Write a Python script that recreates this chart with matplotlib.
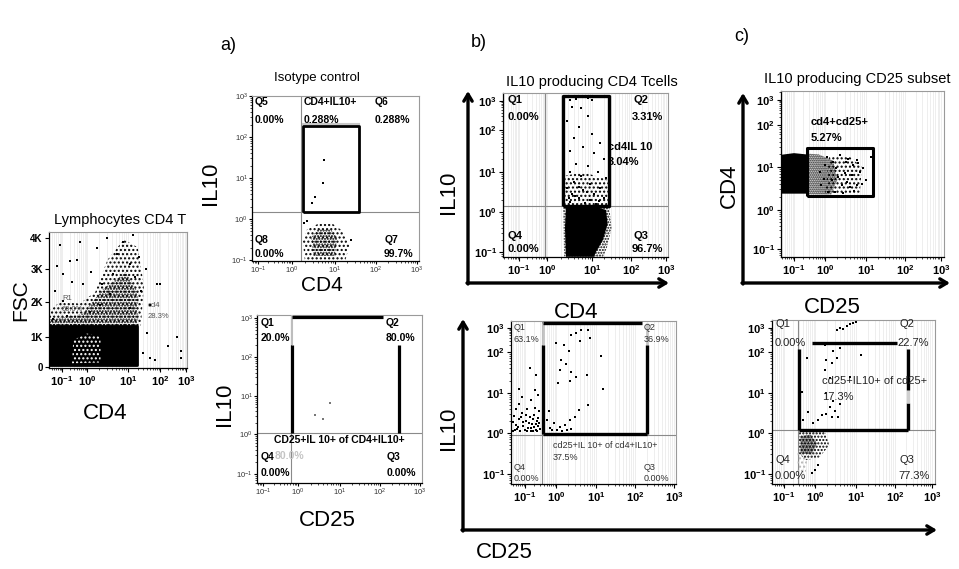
import numpy as np
import matplotlib.pyplot as plt
from matplotlib.patches import Polygon

plt.rcParams['font.family'] = ['Liberation Sans', 'DejaVu Sans']
plt.rcParams['mathtext.fontset'] = 'custom'
plt.rcParams['mathtext.rm'] = 'Liberation Sans'
plt.rcParams['mathtext.it'] = 'Liberation Sans:italic'
plt.rcParams['mathtext.bf'] = 'Liberation Sans:bold'
plt.rcParams['hatch.linewidth'] = 1.0

# ---- data (decades of fluorescence, FSC in channel units) ----
decades = [-1, 0, 1, 2, 3]
fsc_ticks = [0, 1000, 2000, 3000, 4000]
fsc_labels = ['0', '1K', '2K', '3K', '4K']

# Lymphocytes CD4 T (FSC vs CD4)
lym_gate_x = [-1.52, 1.28]
lym_gate_y = [60, 1300]
lym_split = 0.37
lym_core = [(-1.52, 60), (-1.52, 1280), (1.28, 1280), (1.28, 60)]
lym_hole = [(-0.6, 120), (-0.55, 900), (0.0, 1100), (0.33, 1000), (0.33, 150)]
lym_cloud = [(-1.52, 1280), (-1.52, 1750), (-1.0, 2050), (-0.3, 1950), (0.2, 2300), (0.5, 3300),
             (0.9, 3950), (1.3, 3700), (1.5, 2500), (1.4, 1280)]
lym_dense = [(-1.52, 1280), (-1.52, 1500), (-0.2, 1650), (0.4, 2400), (0.95, 2900), (1.3, 2300), (1.3, 1280)]
lym_x = [-1.08, -0.68, -0.28, -0.16, -0.96, -1.28, -0.96, 0.24, 0.49, 0.73, 0.88, 1.05, 1.22, 1.41, 0.63,
         0.37, 0.56, 0.32, 1.05, 0.07, -0.8, -1.36, 1.34, 1.16, 1.69, 1.91, 1.47, 1.69, 1.84, 2.81, 2.81,
         2.0, 2.65, -1.2, -0.4, 0.1, -0.6, 1.55, 2.3, 1.6]
lym_y = [3780, 3260, 3880, 2540, 2850, 2330, 2020, 3690, 4000, 3470, 3880, 3160, 2760, 2330, 2850,
         2540, 2230, 1920, 1830, 1700, 1610, 1520, 3380, 4100, 1920, 2540, 465, 310, 217, 527, 310,
         2540, 990, 3100, 3300, 2900, 2600, 3000, 700, 1100]

# a) isotype control, IL10 vs CD4
iso_quad = (0.21, 0.17)
iso_gate_x = [0.26, 1.59]
iso_gate_y = [0.17, 2.27]
iso_cloud = [(0.3, -1.02), (0.25, -0.55), (0.35, -0.25), (0.6, -0.12), (0.95, -0.12), (1.2, -0.3),
             (1.35, -0.65), (1.25, -1.02)]
iso_core = [(0.5, -0.9), (0.45, -0.45), (0.6, -0.25), (0.9, -0.25), (1.05, -0.45), (1.0, -0.9)]
iso_x = [0.74, 0.72, 0.53, 0.47, 0.28, 1.38, 0.36]
iso_y = [1.44, 0.88, 0.54, 0.39, -0.1, -0.5, -0.05]

# a) isotype control, IL10 vs CD25
isob_quad = (-0.2, 0.03)
isob_left, isob_right = -0.17, 2.48
isob_top_end, isob_top_y = 2.08, 3.03
isob_black_y = [0.03, 2.31]
isob_x = [0.40, 0.60, 0.76]
isob_y = [0.50, 0.39, 0.82]

# b) IL10 vs CD4
cd4_quad = (-0.07, 0.15)
cd4_gate_x = [0.36, 1.44]
cd4_gate_y = [0.15, 3.17]
cd4_core = [(0.42, -1.12), (0.4, -0.4), (0.42, 0.1), (0.7, 0.14), (1.1, 0.13), (1.36, 0.05), (1.4, -0.3),
            (1.28, -0.7), (1.1, -1.0), (1.05, -1.12)]
cd4_halo = [(0.38, -1.12), (0.36, 0.16), (1.44, 0.16), (1.5, -0.4), (1.38, -0.9), (1.28, -1.12)]
cd4_low = [(0.38, 0.16), (0.38, 0.9), (0.8, 1.0), (1.42, 0.8), (1.42, 0.16)]
cd4_x = [0.5, 0.65, 0.9, 1.0, 0.55, 0.75, 0.9, 0.45, 0.7, 0.6, 1.0, 1.2, 0.8, 0.5, 1.05, 1.3, 0.65, 0.9,
         0.5, 1.15, 0.75, 1.35, 0.6, 0.95, 0.45, 1.2, 0.8, 0.55, 1.05, 0.7, 0.95, 1.3, 0.5, 0.85, 1.1,
         0.62, 0.88, 1.18, 0.48, 0.72]
cd4_y = [3.05, 3.08, 3.1, 3.05, 2.8, 2.75, 2.5, 2.3, 2.1, 1.8, 1.9, 1.7, 1.6, 1.5, 1.45, 1.3, 1.2, 1.15,
         1.0, 1.0, 0.9, 0.85, 0.75, 0.7, 0.6, 0.6, 0.55, 0.45, 0.45, 0.35, 0.3, 0.35, 0.25, 0.22, 0.2,
         0.4, 0.5, 0.28, 0.35, 0.62]

# b) IL10 vs CD25 of CD4+IL10+
sub_quad = (-0.45, -0.05)
sub_left, sub_right = -0.42, 2.31
sub_bottom, sub_black_top, sub_top_y = -0.02, 2.29, 3.2
sub_top_end = 2.18
sub_x = [-1.38, -1.3, -1.25, -1.2, -1.15, -1.1, -1.05, -1.0, -0.98, -0.92, -0.9, -0.85, -0.8, -0.78,
         -0.72, -0.7, -0.65, -0.62, -0.58, -0.55, -0.52, -1.35, -1.28, -1.18, -1.08, -0.95, -0.88, -0.75,
         -0.68, -0.6, -1.4, -1.22, -1.12, -0.82, -0.66, -0.57, -1.32, -0.96, -0.74, -0.54,
         -0.68, -0.84, -1.2, -0.63, -0.8, -1.1, -0.58,
         0.0, 0.2, 0.38, 0.5, 0.63, 0.8, 0.85, 0.6, 0.33, 0.12, 0.25, 0.1, 0.38, 0.77, 0.5, 0.06, 0.35,
         1.14, 1.17, 0.8, 0.58, 0.47, 0.35, 0.22, 0.1, -0.07, -0.2, -0.28, 0.02, 0.27, 0.38, -0.12,
         -0.23, 0.14]
sub_y = [0.05, 0.2, 0.1, 0.35, 0.05, 0.5, 0.18, 0.08, 0.3, 0.6, 0.12, 0.4, 0.05, 0.22, 0.15, 0.45, 0.08,
         0.3, 0.18, 0.55, 0.1, 0.42, 0.6, 0.72, 0.28, 0.05, 0.25, 0.35, 0.62, 0.04, 0.28, 0.15, 0.4, 0.12,
         0.22, 0.38, 0.08, 0.45, 0.05, 0.25,
         1.07, 1.6, 1.1, 1.43, 0.82, 0.9, 0.95,
         2.37, 2.29, 2.7, 2.8, 2.9, 2.9, 2.6, 2.45, 2.05, 1.8, 1.7, 1.55, 1.5, 1.45, 1.4, 1.25, 1.3,
         1.9, 1.1, 0.7, 0.58, 0.4, 0.33, 0.2, 0.15, 0.24, 0.12, 0.32, 0.07, 0.07, 0.1, 0.07,
         0.54, 0.04]

# c) CD4 vs CD25
cd25_gate_x = [-0.58, 1.18]
cd25_gate_y = [0.33, 1.45]
cd25_core = [(-1.42, 0.38), (-1.42, 1.29), (-1.0, 1.33), (-0.6, 1.3), (-0.56, 0.38)]
cd25_halo = [(-0.6, 0.36), (-0.6, 1.32), (-0.2, 1.3), (0.2, 1.15), (0.3, 0.7), (0.15, 0.36)]
cd25_thin = [(0.0, 0.36), (0.1, 1.25), (0.6, 1.25), (0.9, 1.0), (0.85, 0.4)]
cd25_x = [0.04, 0.36, 0.52, 0.68, 0.8, 0.85, 0.65, 0.49, 0.28, 0.16, 0.41, 0.61, 0.77, 0.24, 0.45, 0.08,
          1.12, 0.93, 0.77, 0.2, 0.0, 0.32, 0.53, -0.12, -0.16, -0.04, 1.0, 0.7, 0.55, 0.9]
cd25_y = [1.25, 1.29, 1.13, 1.05, 1.09, 0.89, 0.81, 0.85, 0.97, 0.7, 0.58, 0.54, 0.58, 0.43, 0.39, 0.43,
          1.25, 0.97, 1.17, 1.13, 1.05, 0.77, 0.66, 0.58, 0.89, 0.73, 0.7, 0.45, 1.2, 0.6]

# c) IL10 vs CD25 of CD25+
c25_quad = (-0.55, 0.08)
c25_left, c25_right = -0.52, 2.35
c25_bottom, c25_vtop = 0.08, 2.13
c25_gap = (0.75, 1.07)
c25_top_x, c25_top_y = (-0.1, 2.05), 2.38
c25_cloud = [(-0.52, -0.05), (-0.5, 0.06), (-0.1, 0.12), (0.25, 0.03), (0.35, -0.3), (0.1, -0.6),
             (-0.3, -0.66), (-0.52, -0.5)]
c25_core = [(-0.47, -0.5), (-0.47, -0.08), (-0.15, -0.04), (0.05, -0.25), (-0.1, -0.52)]
c25_tail = [(-0.56, -0.45), (-0.56, -1.0), (-0.3, -1.0), (-0.25, -0.6)]
c25_x = [-0.38, -0.22, -0.05, 0.08, 0.16, 0.28, 0.41, 0.37, 0.49, 0.57, 0.45, 0.61, 0.28, 0.37, 0.24,
         0.28, 0.41, 0.53, 0.45, 0.61, 0.24, 0.53, 0.69, 0.77, 0.85, 0.93, 1.0, 0.61, 1.14, 0.85, -0.27,
         -0.43, 0.0, -0.1, 0.08]
c25_y = [0.32, 0.52, 0.24, 0.32, 0.44, 0.48, 0.4, 0.64, 0.56, 0.4, 0.8, 0.72, 1.0, 1.36, 1.55, 1.8, 1.72,
         1.85, 2.05, 2.17, 2.3, 2.9, 2.95, 3.1, 3.15, 3.2, 3.25, 3.0, 1.93, 1.4, 1.85, 1.03, -0.9, -0.98,
         -0.78]

# ---- layout helpers ----
W, H = 959, 569
fig = plt.figure(figsize=(W / 100, H / 100), dpi=100)


def extend(t, p, lo, hi):
    t = np.asarray(t, float)
    p = np.asarray(p, float)
    a = t[0] + (lo - p[0]) * (t[1] - t[0]) / (p[1] - p[0])
    b = t[-1] + (hi - p[-1]) * (t[-1] - t[-2]) / (p[-1] - p[-2])
    return np.r_[a, t, b], np.r_[lo, p, hi]


def panel(box, xpx, ypx, bold=True, stripes=True, yt=decades, ylab=None, ylog=True):
    L, T, R, B = box
    ax = fig.add_axes([L / W, 1 - B / H, (R - L) / W, (B - T) / H], zorder=2)
    xk, xp = extend(decades, xpx, L, R)
    yk, yp = extend(yt, ypx, B, T)
    ax.set_xscale('function', functions=(lambda v: np.interp(v, xk, xp),
                                         lambda q: np.interp(q, xp, xk)))
    ax.set_yscale('function', functions=(lambda v: -np.interp(v, yk, yp),
                                         lambda q: np.interp(q, -yp, yk)))
    ax.set_xlim(xk[0], xk[-1])
    ax.set_ylim(yk[0], yk[-1])
    minor = [k + np.log10(m) for k in range(-2, 4) for m in range(2, 10)]
    ax.set_xticks(decades)
    ax.set_xticks([v for v in minor if xk[0] < v < xk[-1]], minor=True)
    if bold:
        labs = [r'$\mathbf{10^{%d}}$' % d for d in decades]
        fs, col, tl, pad = 8, 'k', 3, 1.5
    else:
        labs = [r'$10^{%d}$' % d for d in decades]
        fs, col, tl, pad = 5.5, '#333333', 2, 1
    ax.set_xticklabels(labs, fontsize=fs, color=col)
    ax.set_yticks(yt)
    if ylog:
        ax.set_yticks([v for v in minor if yk[0] < v < yk[-1]], minor=True)
        ax.set_yticklabels(labs, fontsize=fs, color=col)
    else:
        ax.set_yticklabels(ylab, fontsize=7, fontweight='bold')
    ax.tick_params(which='major', length=tl, width=0.8, pad=pad)
    ax.tick_params(which='minor', length=1.5, width=0.5)
    for s in ['top', 'right']:
        ax.spines[s].set_color('#9a9a9a')
        ax.spines[s].set_linewidth(0.8)
    for s in ['left', 'bottom']:
        ax.spines[s].set_linewidth(0.9)
    if stripes:
        ax.grid(True, which='both', axis='x', color='#ebebeb', lw=0.6)
        ax.set_axisbelow(True)
    return ax


def poly(ax, verts, hatch=None, color='k'):
    if hatch is None:
        ax.add_patch(Polygon(verts, closed=True, facecolor=color, edgecolor='none', zorder=2))
    else:
        ax.add_patch(Polygon(verts, closed=True, facecolor='none', edgecolor=color, hatch=hatch,
                             lw=0, zorder=2))


def dots(ax, x, y, color='k'):
    ax.scatter(x, y, s=1.4, c=color, marker='s', lw=0, zorder=3)


def gate(ax, x, y, color='k', lw=2.3):
    ax.plot(x, y, color=color, lw=lw, solid_capstyle='butt', zorder=4)


def quad(ax, q):
    ax.axvline(q[0], color='#8a8a8a', lw=0.8, zorder=1)
    ax.axhline(q[1], color='#8a8a8a', lw=0.8, zorder=1)


# ---- left: Lymphocytes CD4 T ----
ax = panel((49, 232, 187, 368), [62, 87, 128, 160, 186], [367, 337, 302, 269, 238],
           yt=fsc_ticks, ylab=fsc_labels, ylog=False)
poly(ax, lym_cloud, '....')
poly(ax, lym_dense, '......')
poly(ax, lym_core)
poly(ax, lym_hole, '....', color='w')
dots(ax, lym_x, lym_y)
gx, gy = lym_gate_x, lym_gate_y
gate(ax, [gx[0], gx[1], gx[1], gx[0], gx[0]], [gy[0], gy[0], gy[1], gy[1], gy[0]], lw=2)
gate(ax, [lym_split, lym_split], gy, lw=2)

# ---- a) top ----
ax = panel((252, 96, 419, 261), [258, 292, 335, 376, 417], [260, 219, 178, 137, 96],
           bold=False, stripes=False)
quad(ax, iso_quad)
poly(ax, iso_cloud, '....')
poly(ax, iso_core, '......')
dots(ax, iso_x, iso_y)
gx, gy = iso_gate_x, iso_gate_y
ax.plot(gx, [gy[1] + 0.05] * 2, color='#c8c8c8', lw=1.5, zorder=3)
gate(ax, [gx[0], gx[0], gx[1], gx[1], gx[0]], [gy[0], gy[1], gy[1], gy[0], gy[0]], lw=2)

# ---- a) bottom ----
ax = panel((257, 315, 422, 483), [263, 298, 340, 380, 420], [474, 434, 396, 357, 318],
           bold=False, stripes=False)
quad(ax, isob_quad)
dots(ax, isob_x, isob_y, color='#777777')
gate(ax, [isob_left, isob_left], [isob_black_y[1], 3.08], color='#bdbdbd', lw=1.5)
gate(ax, [isob_left, isob_left], isob_black_y)
gate(ax, [isob_right, isob_right], isob_black_y)
gate(ax, [isob_left, isob_top_end], [isob_top_y] * 2)

# ---- b) top ----
ax = panel((503, 93, 668, 257), [519, 547, 592, 631, 666], [252, 212, 172, 130, 101])
quad(ax, cd4_quad)
poly(ax, cd4_halo, '......')
poly(ax, cd4_core)
poly(ax, cd4_low, '....')
dots(ax, cd4_x, cd4_y)
gx, gy = cd4_gate_x, cd4_gate_y
gate(ax, [gx[0], gx[0], gx[1], gx[1], gx[0]], [gy[0], gy[1], gy[1], gy[0], gy[0]], lw=2.4)

# ---- b) bottom ----
ax = panel((511, 321, 676, 484), [525, 556, 596, 635, 674], [474, 433, 393, 352, 328])
quad(ax, sub_quad)
dots(ax, sub_x, sub_y)
for gx in [sub_left, sub_right]:
    gate(ax, [gx, gx], [sub_black_top, sub_top_y], color='#c4c4c4', lw=2)
    gate(ax, [gx, gx], [sub_bottom, sub_black_top], lw=2.4)
gate(ax, [sub_left, sub_right], [sub_bottom] * 2, lw=2.4)
gate(ax, [sub_left, sub_top_end], [sub_top_y] * 2, lw=2.4)

# ---- c) top ----
ax = panel((781, 91, 944, 257), [794, 825, 866, 905, 941], [249, 210, 167, 125, 100])
poly(ax, cd25_thin, '....')
poly(ax, cd25_halo, '........')
poly(ax, cd25_core)
dots(ax, cd25_x, cd25_y)
gx, gy = cd25_gate_x, cd25_gate_y
gate(ax, [gx[0], gx[0], gx[1], gx[1], gx[0]], [gy[0], gy[1], gy[1], gy[0], gy[0]], lw=2.2)

# ---- c) bottom ----
ax = panel((772, 320, 935, 484), [784, 815, 856, 895, 932], [474, 433, 393, 352, 328])
quad(ax, c25_quad)
poly(ax, c25_tail, '....', color='#b5b5b5')
poly(ax, c25_cloud, '.....')
poly(ax, c25_core, '........')
dots(ax, c25_x, c25_y)
gate(ax, [c25_left, c25_left], [c25_bottom, c25_vtop], lw=2.4)
gate(ax, [c25_right, c25_right], [c25_bottom, c25_gap[0]], lw=2.4)
gate(ax, [c25_right, c25_right], list(c25_gap), color='#cfcfcf', lw=2.4)
gate(ax, [c25_right, c25_right], [c25_gap[1], c25_vtop], lw=2.4)
gate(ax, [c25_left, c25_right], [c25_bottom] * 2, lw=2.4)
gate(ax, list(c25_top_x), [c25_top_y] * 2, lw=2.4)

# ---- overlay: labels and arrows in pixel coordinates ----
ov = fig.add_axes([0, 0, 1, 1], zorder=10)
ov.set_xlim(0, W)
ov.set_ylim(H, 0)
ov.axis('off')
ov.patch.set_alpha(0)


def t(x, y, s, size=7.5, weight='bold', color='k', ha='left', rot=0):
    ov.text(x, y, s, fontsize=size, fontweight=weight, color=color, ha=ha, va='center', rotation=rot)


def arrow(x0, y0, x1, y1):
    ov.annotate('', xy=(x1, y1), xytext=(x0, y0),
                arrowprops=dict(arrowstyle='->,head_length=0.5,head_width=0.3', color='k', lw=2.4,
                                shrinkA=0, shrinkB=0))


for s, x, y in [('a)', 228, 45), ('b)', 479, 42), ('c)', 742, 36)]:
    t(x, y, s, size=13, weight='normal', ha='center')

t(120, 220, 'Lymphocytes CD4 T', size=10.5, weight='normal', ha='center')
t(317, 78, 'Isotype control', size=9.5, weight='normal', ha='center')
t(592, 82, 'IL10 producing CD4 Tcells', size=10.5, weight='normal', ha='center')
t(857, 79, 'IL10 producing CD25 subset', size=10.5, weight='normal', ha='center')

big = 16
t(21, 300, 'FSC', size=15, weight='normal', ha='center', rot=90)
t(105, 413, 'CD4', size=big, weight='normal', ha='center')
t(211, 183, 'IL10', size=big, weight='normal', ha='center', rot=90)
t(322, 285, 'CD4', size=15, weight='normal', ha='center')
t(225, 404, 'IL10', size=big, weight='normal', ha='center', rot=90)
t(327, 521, 'CD25', size=big, weight='normal', ha='center')
t(448, 192, 'IL10', size=big, weight='normal', ha='center', rot=90)
t(576, 312, 'CD4', size=big, weight='normal', ha='center')
t(449, 428, 'IL10', size=big, weight='normal', ha='center', rot=90)
t(504, 553, 'CD25', size=big, weight='normal', ha='center')
t(729, 186, 'CD4', size=big, weight='normal', ha='center', rot=90)
t(832, 307, 'CD25', size=big, weight='normal', ha='center')

# left panel gate labels
t(62, 298, 'R1', size=5.5, weight='normal', color='#555555')
t(62, 309, '60.0%', size=5.5, weight='normal', color='#555555')
t(148, 305, 'cd4', size=5.5, weight='normal', color='#555555')
t(148, 316, '28.3%', size=5.5, weight='normal', color='#555555')

# a) top
for s, x, y in [('Q5', 255, 102), ('0.00%', 255, 120), ('CD4+IL10+', 304, 102), ('0.288%', 304, 120),
                ('Q6', 375, 102), ('0.288%', 375, 120), ('Q8', 255, 240), ('0.00%', 255, 254),
                ('Q7', 385, 240), ('99.7%', 384, 254)]:
    t(x, y, s)
# a) bottom
for s, x, y in [('Q1', 261, 323), ('20.0%', 261, 338), ('Q2', 386, 323), ('80.0%', 386, 338),
                ('CD25+IL 10+ of CD4+IL10+', 274, 440), ('Q4', 261, 457), ('Q3', 387, 457),
                ('0.00%', 261, 473), ('0.00%', 387, 473)]:
    t(x, y, s)
t(275, 456, '80.0%', color='#c4c4c4')
# b) top
for s, x, y in [('Q1', 508, 100), ('0.00%', 508, 117), ('Q2', 634, 100), ('3.31%', 632, 117),
                ('cd4IL 10', 608, 147), ('3.04%', 608, 162), ('Q4', 508, 236), ('0.00%', 508, 249),
                ('Q3', 634, 236), ('96.7%', 632, 249)]:
    t(x, y, s, size=8)
# b) bottom
for s, x, y in [('Q1', 514, 327), ('63.1%', 514, 339), ('Q2', 644, 327), ('36.9%', 644, 339),
                ('cd25+IL 10+ of cd4+IL10+', 553, 445), ('37.5%', 553, 457), ('Q4', 514, 467),
                ('0.00%', 514, 478), ('Q3', 644, 467), ('0.00%', 644, 478)]:
    t(x, y, s, size=6.5, weight='normal', color='#333333')
# c) top
t(811, 122, 'cd4+cd25+', size=8)
t(811, 138, '5.27%', size=8)
# c) bottom
for s, x, y in [('Q1', 775, 324), ('0.00%', 775, 343), ('Q2', 899, 324), ('22.7%', 897, 343),
                ('cd25+IL10+ of cd25+', 822, 381), ('17.3%', 822, 397), ('Q4', 775, 460),
                ('0.00%', 775, 476), ('Q3', 899, 460), ('77.3%', 898, 476)]:
    t(x, y, s, size=8, weight='normal', color='#222222')

# axis arrows
arrow(468, 284, 468, 91)
arrow(467, 283, 669, 283)
arrow(463, 531, 463, 319)
arrow(462, 530, 937, 530)
arrow(743, 284, 743, 93)
arrow(742, 283, 950, 283)

fig.savefig('out.png', dpi=100)
